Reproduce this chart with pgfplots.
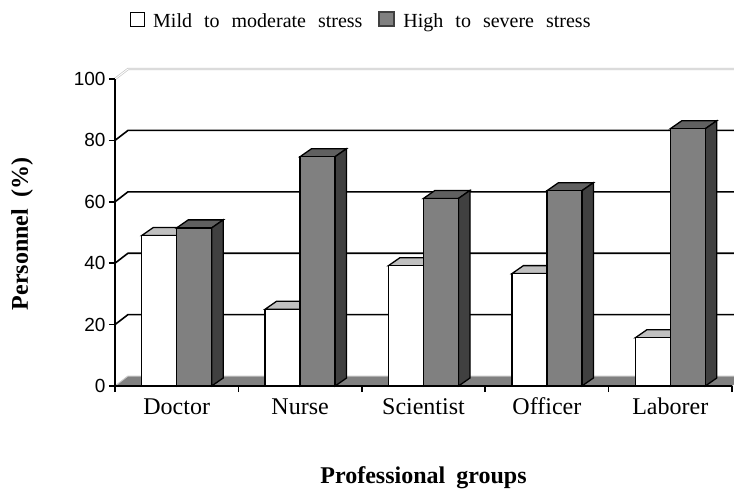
\documentclass[border=0pt]{standalone}
\usepackage{fontspec}
\setmainfont{Liberation Serif}
\newfontfamily\sansf{Liberation Sans}
\usepackage{pgfplots}
\usepackage{pgfplotstable}
\pgfplotsset{compat=1.18}
\pgfdeclareplotmark{void}{}
\definecolor{frontgray}{HTML}{808080}
\definecolor{topgray}{HTML}{606060}
\definecolor{sidegray}{HTML}{404040}
\definecolor{toplight}{HTML}{C0C0C0}
\definecolor{floorgray}{HTML}{808080}
\definecolor{walledge}{HTML}{C8C8C8}
\newcommand{\ws}{\hspace{12pt}}
\newcommand{\wl}{\hspace{11pt}}

\pgfplotstableread{
x mild high
0.5 49.0 51.5
1.5 25.0 74.7
2.5 39.2 61.1
3.5 36.6 63.6
4.5 15.7 83.8
}\data

\begin{document}
\begin{tikzpicture}
\begin{axis}[
  x=123.4pt, y=3.07pt,
  xmin=0, xmax=5, ymin=0, ymax=100,
  axis lines*=left, axis on top, clip=false, clip marker paths=true,
  axis line style={line width=1.5pt, -},
  tick style={line width=1.5pt, black},
  tick align=outside,
  major tick length=6pt,
  xtick={0,1,2,3,4,5},
  xticklabels={,,,,,},
  extra x ticks={0.5,1.5,2.5,3.5,4.5},
  extra x tick labels={Doctor,Nurse,Scientist,Officer,Laborer},
  extra x tick style={tick style={draw=none}, xticklabel style={font=\fontsize{24}{28}\selectfont, text height=16pt, text depth=5pt, yshift=-3pt}},
  ytick={0,20,40,60,80,100},
  yticklabel style={font=\sansf\fontsize{19}{21}\selectfont},
  /pgf/number format/assume math mode=true,
  xlabel={Professional\wl groups},
  xlabel style={font=\bfseries\fontsize{24}{28}\selectfont, at={(axis description cs:0.5,-0.316)}, anchor=base},
  ylabel={Personnel\wl (\%)},
  ylabel style={font=\bfseries\fontsize{24}{28}\selectfont, at={(axis description cs:-0.141,0.495)}, anchor=base},
  legend columns=2,
  legend style={at={(axis description cs:0.0243,1.1922)}, anchor=west, draw=none, fill=none, inner sep=0pt,
    font=\fontsize{20}{24}\selectfont,
    nodes={inner sep=0pt},
    /tikz/every odd column/.append style={column sep=8pt},
    /tikz/every even column/.append style={column sep=16pt}},
]
% floor
\fill[floorgray] (axis cs:0,0) -- (axis cs:5,0) -- (axis cs:5.1053,3.257) -- (axis cs:0.1053,3.257) -- cycle;
\draw[walledge, line width=1pt] (axis cs:0,0) -- (axis cs:0.1053,3.257) -- (axis cs:5.2,3.257);
% back wall grid
\draw[black, line width=1.6pt] (axis cs:0,20) -- (axis cs:0.1053,23.257) -- (axis cs:5.2,23.257);
\draw[black, line width=1.6pt] (axis cs:0,40) -- (axis cs:0.1053,43.257) -- (axis cs:5.2,43.257);
\draw[black, line width=1.6pt] (axis cs:0,60) -- (axis cs:0.1053,63.257) -- (axis cs:5.2,63.257);
\draw[black, line width=1.6pt] (axis cs:0,80) -- (axis cs:0.1053,83.257) -- (axis cs:5.2,83.257);
\draw[walledge, line width=0.7pt, double=white, double distance=0.9pt] (axis cs:0,100) -- (axis cs:0.1053,103.257) -- (axis cs:5.2,103.257);

% mild bars: top and side faces
\addplot[scatter, only marks, mark=void, forget plot,
  visualization depends on={\thisrow{mild} \as \barh},
  scatter/@pre marker code/.code={%
    \pgfmathsetmacro\hh{\barh*3.07}%
    \pgfmathsetmacro\hb{8-\hh}%
    \filldraw[fill=toplight, draw=black, line width=1.3pt] (-35pt,0pt) -- (0pt,0pt) -- (11.5pt,8pt) -- (-23.5pt,8pt) -- cycle;
    \filldraw[fill=sidegray, draw=black, line width=1.3pt] (0pt,0pt) -- (11.5pt,8pt) -- (11.5pt,\hb pt) -- (0pt,-\hh pt) -- cycle;
  },
  scatter/@post marker code/.code={},
] table[x=x, y=mild]{\data};
\addplot[ybar, bar width=35pt, bar shift=-17.5pt, fill=white, draw=black, line width=1.3pt,
  legend image code/.code={\draw[fill=white, draw=black, line width=1pt] (0pt,-5pt) rectangle (14pt,9pt);}]
  table[x=x, y=mild]{\data};
\addlegendentry{Mild\ws to\ws moderate\ws stress}

% high bars: top and side faces
\addplot[scatter, only marks, mark=void, forget plot,
  visualization depends on={\thisrow{high} \as \barh},
  scatter/@pre marker code/.code={%
    \pgfmathsetmacro\hh{\barh*3.07}%
    \pgfmathsetmacro\hb{8-\hh}%
    \filldraw[fill=topgray, draw=black, line width=1.3pt] (0pt,0pt) -- (35pt,0pt) -- (46.5pt,8pt) -- (11.5pt,8pt) -- cycle;
    \filldraw[fill=sidegray, draw=black, line width=1.3pt] (35pt,0pt) -- (46.5pt,8pt) -- (46.5pt,\hb pt) -- (35pt,-\hh pt) -- cycle;
  },
  scatter/@post marker code/.code={},
] table[x=x, y=high]{\data};
\addplot[ybar, bar width=35pt, bar shift=17.5pt, fill=frontgray, draw=black, line width=1.3pt,
  legend image code/.code={\draw[fill=frontgray, draw=sidegray, line width=2pt] (0pt,-5pt) rectangle (15pt,9pt);}]
  table[x=x, y=high]{\data};
\addlegendentry{High\ws to\ws severe\ws stress}
\end{axis}
\pgfresetboundingbox
\path[use as bounding box] (-115pt,-105pt) rectangle (619pt,386pt);
\end{tikzpicture}
\end{document}
